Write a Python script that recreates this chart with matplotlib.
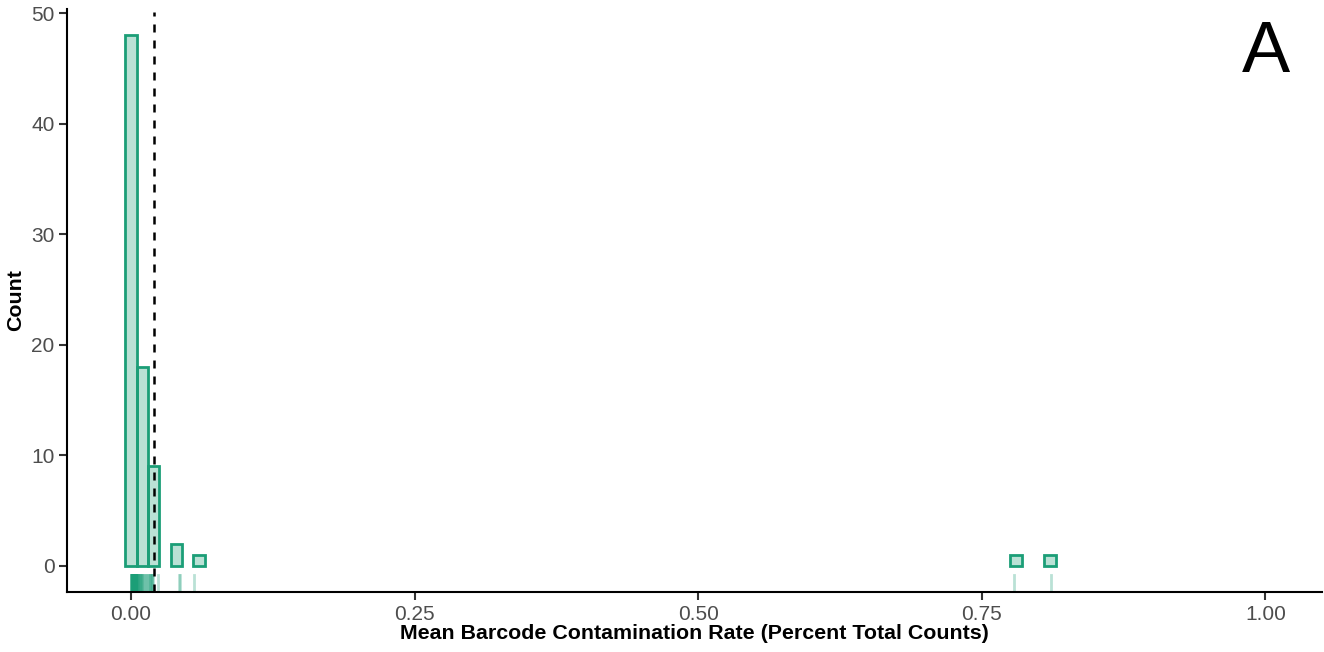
import numpy as np
import matplotlib.pyplot as plt

plt.rcParams['font.family'] = ['Liberation Sans', 'DejaVu Sans']

rates = [
    0.0000, 0.0001, 0.0002, 0.0003, 0.0004, 0.0005, 0.0006, 0.0007, 0.0008, 0.0009,
    0.0010, 0.0011, 0.0012, 0.0013, 0.0014, 0.0015, 0.0016, 0.0017, 0.0018, 0.0019,
    0.0020, 0.0021, 0.0022, 0.0023, 0.0024, 0.0025, 0.0026, 0.0027, 0.0028, 0.0029,
    0.0030, 0.0031, 0.0032, 0.0033, 0.0034, 0.0035, 0.0036, 0.0037, 0.0038, 0.0039,
    0.0040, 0.0041, 0.0042, 0.0043, 0.0044, 0.0045, 0.0047, 0.0049,
    0.0052, 0.0055, 0.0058, 0.0061, 0.0064, 0.0067, 0.0071, 0.0075, 0.0079,
    0.0084, 0.0089, 0.0094, 0.0099, 0.0105, 0.0112, 0.0120, 0.0130, 0.0142,
    0.0152, 0.0158, 0.0165, 0.0171, 0.0177, 0.0183, 0.0188, 0.0193, 0.0238,
    0.0423, 0.0430,
    0.0556,
    0.7780,
    0.8110,
]
threshold = 0.0203
binwidth = 0.01
green = '#1B9E77'

fig = plt.figure(figsize=(13.24, 6.52), dpi=100)
ax = fig.add_axes([0.0506, 0.0913, 0.948, 0.8955])

edges = np.arange(-binwidth / 2, 0.83, binwidth)
counts, edges = np.histogram(rates, bins=edges)
keep = counts > 0
ax.bar(edges[:-1][keep], counts[keep], width=binwidth, align='edge',
       facecolor=(0.106, 0.62, 0.467, 0.3), edgecolor=green, linewidth=2)

# rug along the bottom
for r in rates:
    ax.axvline(r, ymin=0, ymax=0.03, color=green, alpha=0.3, linewidth=2)

ax.axvline(threshold, ymax=0.995, color='black', linestyle=(0, (3.2, 3.2)), linewidth=1.8)

ax.set_xlim(-0.0565, 1.05)
ax.set_ylim(-2.4, 50.4)
ax.set_xticks([0, 0.25, 0.5, 0.75, 1.0])
ax.set_xticklabels(['0.00', '0.25', '0.50', '0.75', '1.00'])
ax.set_yticks([0, 10, 20, 30, 40, 50])
ax.tick_params(labelsize=15, labelcolor='#4D4D4D', color='#333333', length=6, width=1.5, pad=3)

for s in ['top', 'right']:
    ax.spines[s].set_visible(False)
for s in ['left', 'bottom']:
    ax.spines[s].set_linewidth(1.5)

ax.set_xlabel('Mean Barcode Contamination Rate (Percent Total Counts)',
              fontsize=15.4, fontweight='bold', labelpad=0)
ax.set_ylabel('Count', fontsize=15.4, fontweight='bold', labelpad=4)

fig.text(0.9563, 0.890, 'A', fontsize=52, ha='center', va='baseline')

fig.savefig('out.png', dpi=100)
